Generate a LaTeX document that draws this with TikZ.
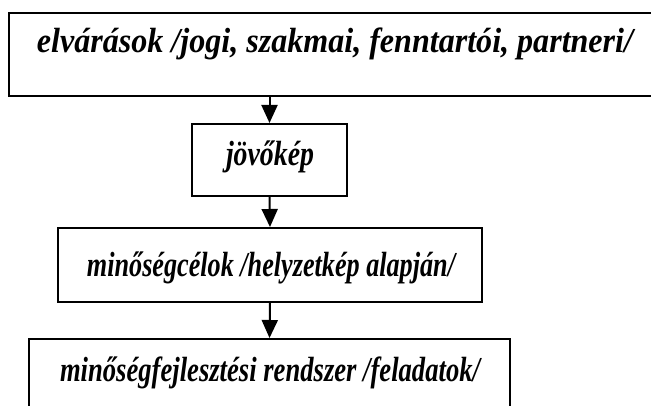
\documentclass[tikz,border=0pt]{standalone}
\usepackage{fontspec}
\setmainfont{Liberation Serif}
\usetikzlibrary{arrows.meta}
\tikzset{
  box/.style={draw, line width=2pt, inner sep=0pt, rectangle},
  lbl/.style={anchor=base, inner sep=0pt, font=\fontsize{35}{40}\selectfont\bfseries\itshape},
  conn/.style={line width=2pt, -{Triangle[width=16pt,length=18pt]}}
}
\begin{document}
\begin{tikzpicture}[x=1pt,y=-1pt]
\useasboundingbox (0,0) rectangle (651,406);
\clip (0,0) rectangle (651,406);
\node[box, minimum width=651pt, minimum height=83pt] (b1) at (334.5,54.5) {};
\node[box, minimum width=155pt, minimum height=72pt] (b2) at (269.5,160) {};
\node[box, minimum width=424pt, minimum height=74pt] (b3) at (270,265) {};
\node[box, minimum width=481pt, minimum height=82pt] (b4) at (269.5,380) {};
\node[lbl] (t1) at (335,53) {\resizebox{596pt}{\height}{elvárások /jogi, szakmai, fenntartói, partneri/}};
\node[lbl] (t2) at (270,166) {\resizebox{88pt}{\height}{jövőkép}};
\node[lbl] (t3) at (271,277) {\resizebox{368pt}{\height}{minőségcélok /helyzetkép alapján/}};
\node[lbl] (t4) at (270,381) {\resizebox{420pt}{\height}{minőségfejlesztési rendszer /feladatok/}};
\draw[conn] (b2.north |- b1.south) -- (b2.north);
\draw[conn] (b2.south) -- (b3.north);
\draw[conn] (b3.south) -- (b4.north);
\end{tikzpicture}
\end{document}
